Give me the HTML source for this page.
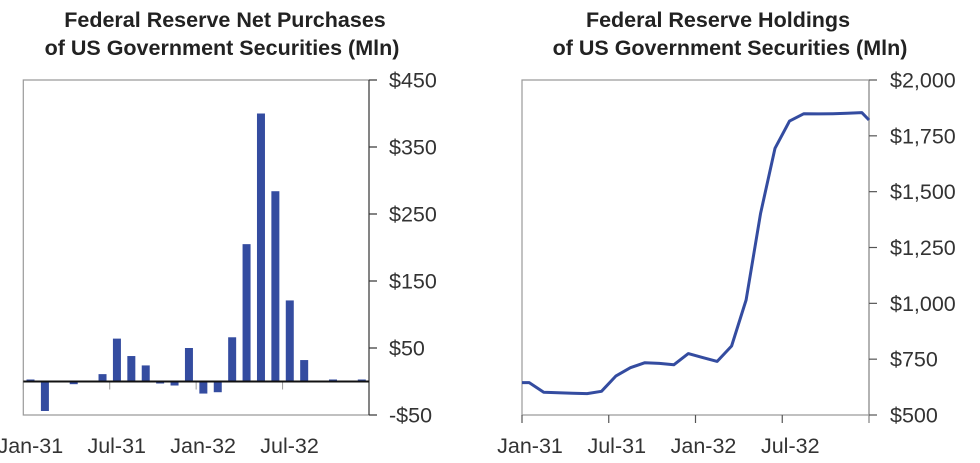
<!DOCTYPE html>
<html><head><meta charset="utf-8"><style>
body{margin:0;background:#fff;}
svg{display:block;font-family:"Liberation Sans",sans-serif;}
</style></head><body>
<svg id="c" width="980" height="463">
<text x="225" y="27" text-anchor="middle" font-size="21.5" font-weight="bold" fill="#222">Federal Reserve Net Purchases</text>
<text x="222" y="55" text-anchor="middle" font-size="21.5" font-weight="bold" fill="#222">of US Government Securities (Mln)</text>
<text x="718" y="27" text-anchor="middle" font-size="21.5" font-weight="bold" fill="#222">Federal Reserve Holdings</text>
<text x="730" y="55" text-anchor="middle" font-size="21.5" font-weight="bold" fill="#222">of US Government Securities (Mln)</text>
<g id="left"></g>
<g id="right"></g>
</svg>
<script>
const months=["Jan-31","Feb-31","Mar-31","Apr-31","May-31","Jun-31","Jul-31","Aug-31","Sep-31","Oct-31","Nov-31","Dec-31","Jan-32","Feb-32","Mar-32","Apr-32","May-32","Jun-32","Jul-32","Aug-32","Sep-32","Oct-32","Nov-32","Dec-32"];
const purchases=[3,-44,0,-4,0,11,64,38,24,-3,-6,50,-18,-16,66,205,400,284,121,32,-1,3,0,3];
const leftTicks=[450,350,250,150,50,-50];
const holdingsT=[0,0.5,1.5,2.5,3.5,4.5,5.5,6.5,7.5,8.5,9.5,10.5,11.5,12.5,13.5,14.5,15.5,16.5,17.5,18.5,19.5,20.5,21.5,22.5,23.5,24];
const holdings=[645,645,602,600,597,596,606,675,712,734,731,725,775,757,740,809,1015,1403,1694,1816,1849,1848,1849,1851,1854,1821];
const rightTicks=[2000,1750,1500,1250,1000,750,500];
const xLabels=["Jan-31","Jul-31","Jan-32","Jul-32"];
const xLabelMonths=[0,6,12,18];

const NS="http://www.w3.org/2000/svg";
function mk(p,tag,at){const e=document.createElementNS(NS,tag);for(const k in at)e.setAttribute(k,at[k]);p.appendChild(e);return e;}

const L=document.getElementById('left');
const lx0=23.3,lx1=369,ly0=80,ly1=415;
const lx=m=>lx0+(lx1-lx0)*m/24;
const ly=v=>ly1-(v+50)/500*(ly1-ly0);
let f=mk(L,'path',{d:`M${lx1},${ly0}H${lx0}V${ly1}H${lx1}`,fill:'none',stroke:'#9a9a9a','stroke-width':1.2});


let ax=mk(L,'line',{x1:lx1,y1:ly0,x2:lx1,y2:ly1,stroke:'#333','stroke-width':1.2});


leftTicks.forEach(t=>{
  const y=ly(t);
  const tk=mk(L,'line',{x1:lx1,y1:y,x2:lx1+8,y2:y,stroke:'#333','stroke-width':1.2});
  
  
  const tx=mk(L,'text',{x:389,y:y+7.5,'font-size':21.5,fill:'#333'});
  tx.textContent=(t<0?'-$':'$')+Math.abs(t);
  
  
});
purchases.forEach((v,i)=>{
  const c=lx(i+0.5),y0=ly(0),y=ly(v);
  if(v===0)return;
  const r=mk(L,'rect',{x:c-4,y:Math.min(y,y0),width:8,height:Math.abs(y-y0),fill:'#344ca0'});
  
  
});
xLabelMonths.forEach((m,i)=>{
  const x=lx(m);
  const tk=mk(L,'line',{x1:x,y1:ly(0),x2:x,y2:ly(0)+8,stroke:'#9a9a9a','stroke-width':1});
  
  
  const tx=mk(L,'text',{x:x+7,y:453,'text-anchor':'middle','font-size':21.5,fill:'#333'});
  tx.textContent=xLabels[i];
  
  
});
let z=mk(L,'line',{x1:lx0,y1:ly(0),x2:lx1,y2:ly(0),stroke:'#111','stroke-width':2});



const R=document.getElementById('right');
const rx0=522,rx1=869,ry0=80,ry1=415;
const rx=m=>rx0+(rx1-rx0)*m/24;
const ry=v=>ry1-(v-500)/1500*(ry1-ry0);
f=mk(R,'path',{d:`M${rx1},${ry0}H${rx0}V${ry1}H${rx1}`,fill:'none',stroke:'#9a9a9a','stroke-width':1.2});


ax=mk(R,'line',{x1:rx1,y1:ry0,x2:rx1,y2:ry1+8,stroke:'#9a9a9a','stroke-width':1.5});


rightTicks.forEach(t=>{
  const y=ry(t);
  const tk=mk(R,'line',{x1:rx1,y1:y,x2:rx1+8,y2:y,stroke:'#555','stroke-width':1.2});
  
  
  const tx=mk(R,'text',{x:890,y:y+7.5,'font-size':21.5,fill:'#333'});
  tx.textContent='$'+t.toLocaleString('en-US');
  
  
});
xLabelMonths.forEach((m,i)=>{
  const x=rx(m);
  const tk=mk(R,'line',{x1:x,y1:ry1,x2:x,y2:ry1+8,stroke:'#555','stroke-width':1.2});
  
  
  const tx=mk(R,'text',{x:x+8,y:453,'text-anchor':'middle','font-size':21.5,fill:'#333'});
  tx.textContent=xLabels[i];
  
  
});
const pts=holdings.map((v,i)=>rx(holdingsT[i]).toFixed(1)+','+ry(v).toFixed(1)).join(' ');
const ln=mk(R,'polyline',{points:pts,fill:'none',stroke:'#344ca0','stroke-width':3,'stroke-linejoin':'round'});


</script>
</body></html>
